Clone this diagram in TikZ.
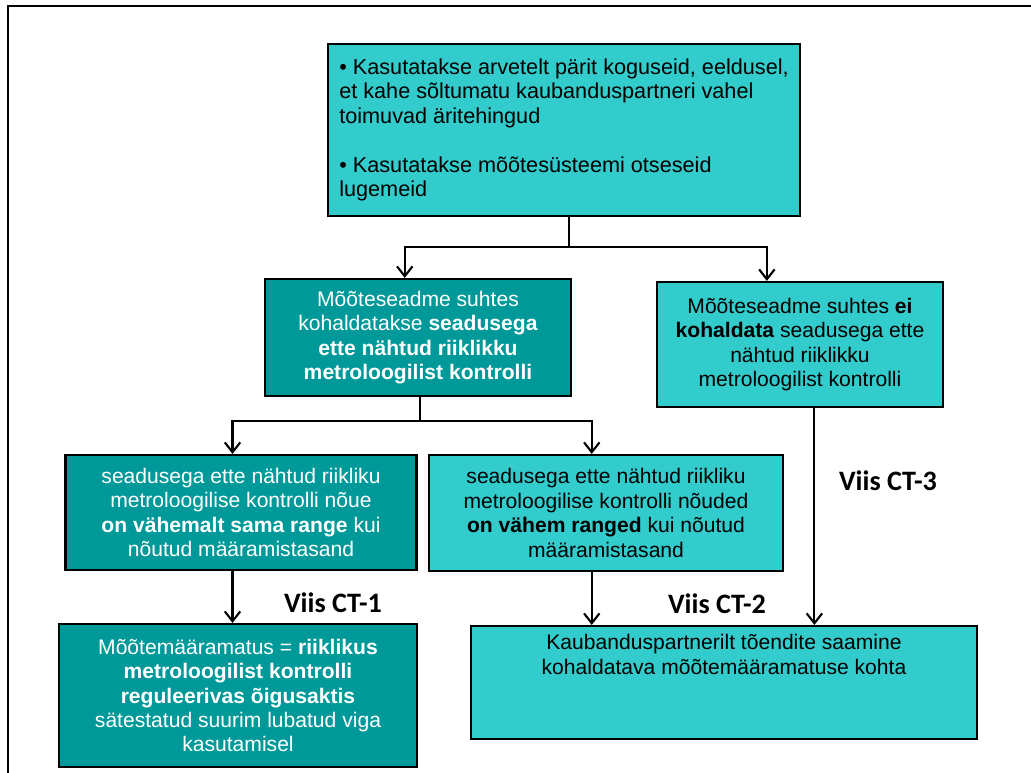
\documentclass[tikz,border=0pt]{standalone}
\usepackage{fontspec}
\setmainfont{Liberation Sans}
\newfontfamily\calibri{Carlito}
\usepackage{tikz}
\usetikzlibrary{positioning,arrows.meta,calc}
\definecolor{tealdark}{HTML}{009999}
\definecolor{tealcyan}{HTML}{33CCCC}
\tikzset{
  box/.style={draw=black,line width=1.5pt,inner sep=0pt,align=center,
    font=\fontsize{15}{17.4}\selectfont},
  darkbox/.style={box,fill=tealdark,text=white},
  lightbox/.style={box,fill=tealcyan,text=black},
  flowln/.style={line width=1.5pt},
  flowarr/.style={flowln,-{Straight Barb[length=7pt,width=11pt,line width=1.5pt]}},
  viislbl/.style={font=\calibri\bfseries\fontsize{20}{24}\selectfont},
  frame/.style={line width=1.5pt},
}

\begin{document}
\begin{tikzpicture}[x=0.025cm,y=-0.025cm]
  \useasboundingbox (0,0) rectangle (1031,773);
  \draw[frame] (8,773) -- (8,6) -- (1031,6);
  % boxes, px coordinates
  \node[lightbox,align=left,minimum width=11.8cm,minimum height=4.3cm,
    font=\fontsize{15.4}{17.4}\selectfont] (top) at (564,130)
    {\textbullet\ Kasutatakse arvetelt pärit koguseid, eeldusel,\\
     et kahe sõltumatu kaubanduspartneri vahel\\
     toimuvad äritehingud\\[17.4pt]
     \textbullet\ Kasutatakse mõõtesüsteemi otseseid\\
     lugemeid};
  \node[darkbox,minimum width=7.65cm,minimum height=2.925cm] (ml) at (418,337.5)
    {Mõõteseadme suhtes\\ kohaldatakse \textbf{seadusega}\\
     \textbf{ette nähtud riiklikku}\\ \textbf{metroloogilist kontrolli}};
  \node[lightbox,minimum width=7.15cm,minimum height=3.125cm] (mr) at (800,344.5)
    {Mõõteseadme suhtes \textbf{ei}\\ \textbf{kohaldata} seadusega ette\\
     nähtud riiklikku\\ metroloogilist kontrolli};
  \node[darkbox,minimum width=8.775cm,minimum height=2.875cm] (bl) at (241,512.5)
    {seadusega ette nähtud riikliku\\ metroloogilise kontrolli nõue\\
     \textbf{on vähemalt sama range} kui\\ nõutud määramistasand};
  \node[lightbox,minimum width=8.85cm,minimum height=2.9cm] (bm) at (606,513)
    {seadusega ette nähtud riikliku\\ metroloogilise kontrolli nõuded\\
     \textbf{on vähem ranged} kui nõutud\\ määramistasand};
  \node[darkbox,minimum width=8.95cm,minimum height=3.575cm] (res) at (238,695.5)
    {Mõõtemääramatus = \textbf{riiklikus}\\ \textbf{metroloogilist kontrolli}\\
     \textbf{reguleerivas õigusaktis}\\ sätestatud suurim lubatud viga\\ kasutamisel};
  \node[lightbox,minimum width=12.65cm,minimum height=2.825cm] (proof) at (724,682.5)
    {Kaubanduspartnerilt tõendite saamine\\ kohaldatava mõõtemääramatuse kohta\\ \\ \strut};
  % connectors
  \draw[flowln] ($(top.south west)!0.511!(top.south east)$) -- ++(0,30) coordinate (j1);
  \draw[flowarr] (j1) -| ($(ml.north west)!0.457!(ml.north east)$);
  \draw[flowarr] (j1) -| ($(mr.north west)!0.385!(mr.north east)$);
  \draw[flowln] ($(ml.south west)!0.507!(ml.south east)$) -- ++(0,24) coordinate (j2);
  \draw[flowarr] (j2) -| ($(bl.north west)!0.476!(bl.north east)$);
  \draw[flowarr] (j2) -| ($(bm.north west)!0.46!(bm.north east)$);
  \draw[flowarr] ($(bl.south west)!0.476!(bl.south east)$) coordinate (p1) -- (p1 |- res.north);
  \draw[flowarr] ($(bm.south west)!0.46!(bm.south east)$) coordinate (p2) -- (p2 |- proof.north);
  \draw[flowarr] ($(mr.south west)!0.55!(mr.south east)$) coordinate (p3) -- (p3 |- proof.north);
  % labels
  \node[viislbl] (ct1) at (333,603) {Viis CT-1};
  \node[viislbl] (ct2) at (717,604) {Viis CT-2};
  \node[viislbl] (ct3) at (888,481) {Viis CT-3};
\end{tikzpicture}
\end{document}
